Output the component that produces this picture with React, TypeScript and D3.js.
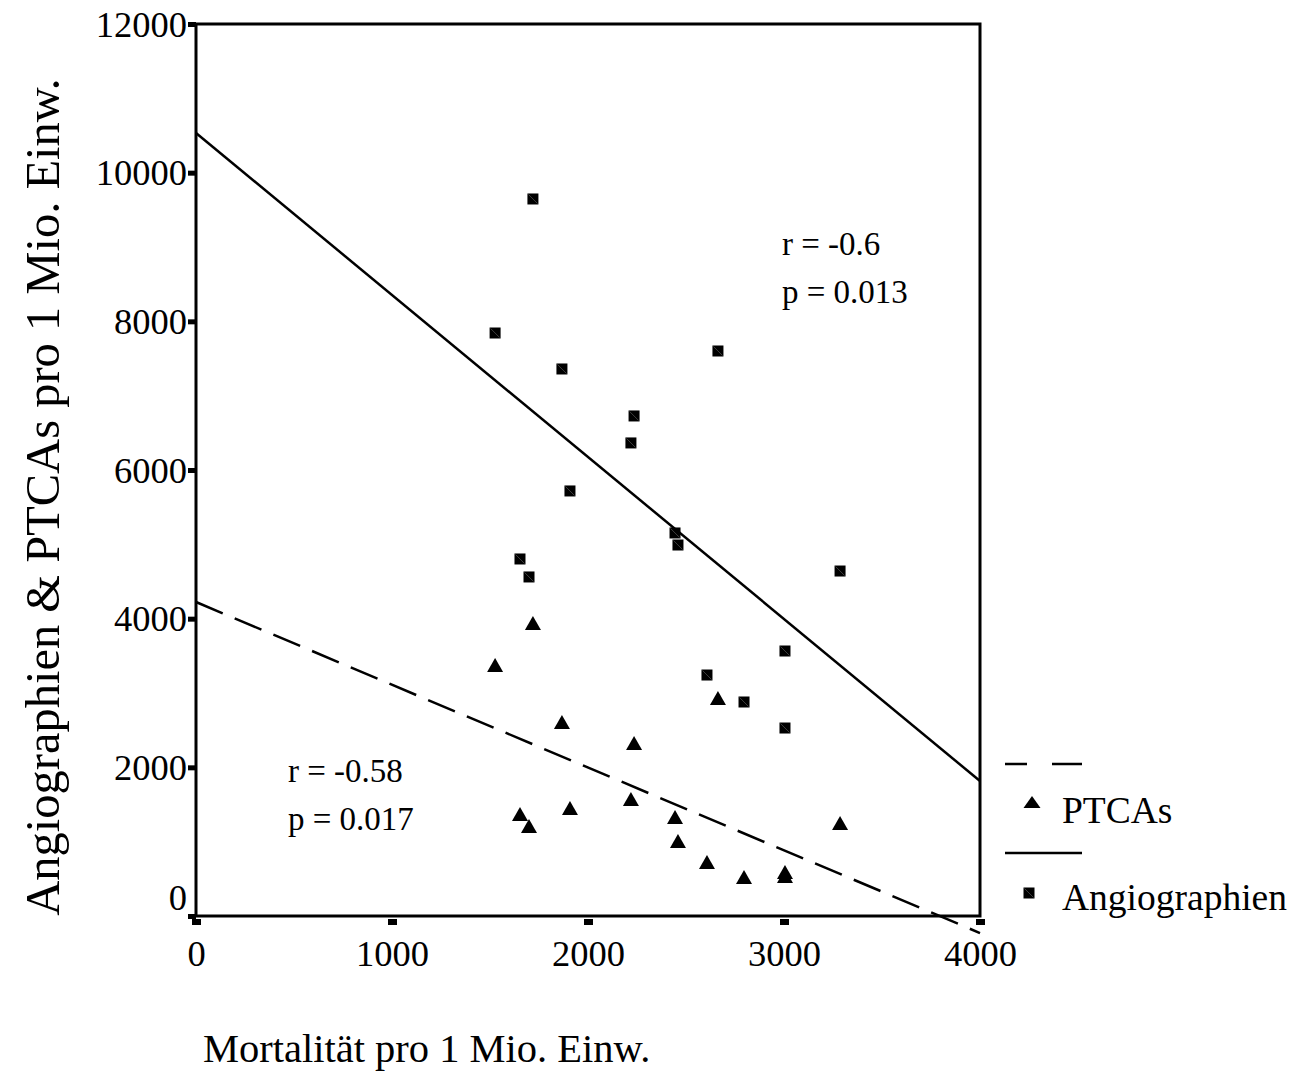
import React, { useEffect, useRef } from 'react';
import * as d3 from 'd3';

// Mortalität vs. Angiographien / PTCAs (pro 1 Mio. Einw.)

const mortality = [1719, 1526, 1867, 2663, 2235, 2219, 1908, 2444, 2459, 1653, 1699, 3286, 3005, 3005, 2607, 2796];
const angiographien = [9646, 7843, 7359, 7601, 6727, 6364, 5718, 5153, 4991, 4803, 4561, 4641, 3565, 2529, 3242, 2879];
const ptcas = [3942, 3377, 2610, 2933, 2327, 1574, 1453, 1332, 1009, 1372, 1211, 1251, 592, 538, 726, 525];

// regression lines: [intercept, slope]
const angioFit = [10534, -2.1795];
const ptcaFit = [4224, -1.1133];

const xTicks = [0, 1000, 2000, 3000, 4000];
const yTicks = [0, 2000, 4000, 6000, 8000, 10000, 12000];

const angioStats = ['r = -0.6', 'p = 0.013'];
const ptcaStats = ['r = -0.58', 'p = 0.017'];

const FONT = '"Liberation Serif", "Times New Roman", serif';

const width = 1299;
const height = 1078;
const margin = { top: 24, right: 319, bottom: 162, left: 196 };

const App = () => {
  const chartRef = useRef(null);

  const xScale = d3.scaleLinear()
    .domain([0, 4000])
    .range([margin.left, width - margin.right]);

  const yScale = d3.scaleLinear()
    .domain([0, 12000])
    .range([height - margin.bottom, margin.top]);

  useEffect(() => {
    const svg = d3.select(chartRef.current);
    svg.selectAll('*').remove();
    plotAxis(svg);
    plotChart(svg);
    plotLegend(svg);
  });

  const trianglePath = (cx, cy, w, h) =>
    `M${cx},${cy - h / 2}L${cx + w / 2},${cy + h / 2}L${cx - w / 2},${cy + h / 2}Z`;

  const drawSquare = (g, cx, cy, s) => {
    g.append('rect')
      .attr('x', cx - s / 2).attr('y', cy - s / 2)
      .attr('width', s).attr('height', s)
      .attr('fill', '#000');
    g.append('line')
      .attr('x1', cx - s / 2 + 1).attr('y1', cy - s / 2 + 1)
      .attr('x2', cx + s / 2 - 1).attr('y2', cy + s / 2 - 1)
      .attr('stroke', '#666').attr('stroke-width', 0.6);
  };

  const plotAxis = (svg) => {
    const x0 = xScale(0), x1 = xScale(4000);
    const y0 = yScale(0), y1 = yScale(12000);

    const yAxis = d3.axisLeft(yScale).tickValues(yTicks).tickSize(8).tickFormat(d3.format('d'));
    svg.append('g')
      .attr('transform', `translate(${x0}, 0)`)
      .call(yAxis)
      .call(g => g.select('.domain').remove())
      .call(g => g.selectAll('.tick line').attr('stroke', '#000').attr('stroke-width', 5))
      .call(g => g.selectAll('.tick text')
        .attr('font-family', FONT).attr('font-size', 36.5).attr('fill', '#000')
        .attr('x', -9).attr('dy', d => d === 0 ? '-0.18em' : '0.33em'));

    const xAxis = d3.axisBottom(xScale).tickValues(xTicks).tickSize(0).tickFormat(d3.format('d'));
    svg.append('g')
      .attr('transform', `translate(0, ${y0})`)
      .call(xAxis)
      .call(g => g.select('.domain').remove())
      .call(g => g.selectAll('.tick line')
        .attr('y1', 3).attr('y2', 9).attr('stroke', '#000').attr('stroke-width', 9))
      .call(g => g.selectAll('.tick text')
        .attr('font-family', FONT).attr('font-size', 36.5).attr('fill', '#000')
        .attr('y', 24).attr('dy', '0.71em'));

    svg.append('rect')
      .attr('x', x0).attr('y', y1)
      .attr('width', x1 - x0).attr('height', y0 - y1)
      .attr('fill', 'none').attr('stroke', '#000').attr('stroke-width', 3);

    svg.append('text')
      .attr('x', 203).attr('y', 1062)
      .attr('font-family', FONT).attr('font-size', 40.5)
      .text('Mortalität pro 1 Mio. Einw.');

    svg.append('text')
      .attr('transform', `translate(59, 497) rotate(-90)`)
      .attr('text-anchor', 'middle')
      .attr('font-family', FONT).attr('font-size', 48.5)
      .text('Angiographien & PTCAs pro 1 Mio. Einw.');
  };

  const plotChart = (svg) => {
    const line = d3.line().x(d => xScale(d[0])).y(d => yScale(d[1]));
    const fitPoints = fit => [0, 4000].map(v => [v, fit[0] + fit[1] * v]);

    svg.append('path')
      .attr('d', line(fitPoints(angioFit)))
      .attr('fill', 'none').attr('stroke', '#000').attr('stroke-width', 2.5);

    svg.append('path')
      .attr('d', line(fitPoints(ptcaFit)))
      .attr('fill', 'none').attr('stroke', '#000').attr('stroke-width', 2.5)
      .attr('stroke-dasharray', '29 13');

    const squares = svg.append('g');
    mortality.forEach((m, i) => drawSquare(squares, xScale(m), yScale(angiographien[i]), 11));

    svg.append('g')
      .selectAll('path')
      .data(mortality)
      .join('path')
      .attr('d', (m, i) => trianglePath(xScale(m), yScale(ptcas[i]), 16, 14))
      .attr('fill', '#000');

    const stats = (lines, x, y) => svg.append('g')
      .selectAll('text')
      .data(lines)
      .join('text')
      .attr('x', x).attr('y', (d, i) => y + i * 48)
      .attr('font-family', FONT).attr('font-size', 33)
      .text(d => d);

    stats(angioStats, 782, 255);
    stats(ptcaStats, 288, 782);
  };

  const plotLegend = (svg) => {
    const g = svg.append('g');
    g.append('line')
      .attr('x1', 1005).attr('x2', 1082).attr('y1', 764).attr('y2', 764)
      .attr('stroke', '#000').attr('stroke-width', 2.5).attr('stroke-dasharray', '22 25 30');
    g.append('path').attr('d', trianglePath(1032, 802, 17, 12)).attr('fill', '#000');
    g.append('text').attr('x', 1062).attr('y', 823)
      .attr('font-family', FONT).attr('font-size', 37.5).text('PTCAs');

    g.append('line')
      .attr('x1', 1005).attr('x2', 1082).attr('y1', 853).attr('y2', 853)
      .attr('stroke', '#000').attr('stroke-width', 2.5);
    drawSquare(g, 1029, 893, 11);
    g.append('text').attr('x', 1062).attr('y', 910)
      .attr('font-family', FONT).attr('font-size', 37.5).text('Angiographien');
  };

  return (
    <svg
      viewBox={`0, 0, ${width}, ${height}`}
      width={width}
      height={height}
      ref={chartRef}
      style={{ position: 'absolute', left: 0, top: 0, background: '#fff' }}
    />
  );
};

export default App;
